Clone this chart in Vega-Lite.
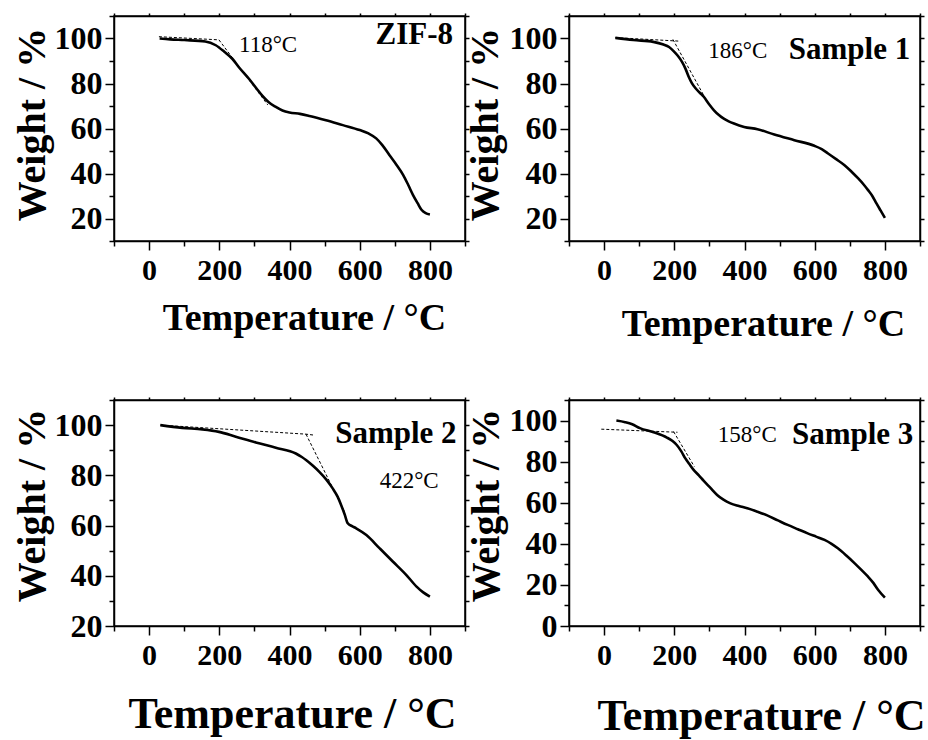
{
  "$schema": "https://vega.github.io/schema/vega-lite/v6.json",
  "background": "white",
  "padding": {"left": 11, "top": 11, "right": 0, "bottom": 0},
  "columns": 2,
  "spacing": {"row": 159, "column": 104},
  "bounds": "flush",
  "config": {
    "view": {"stroke": "black", "strokeWidth": 1.5},
    "axis": {
      "grid": false,
      "domainColor": "black",
      "domainWidth": 1.5,
      "tickColor": "black",
      "tickWidth": 1.5,
      "labelFont": "Liberation Serif",
      "labelFontWeight": "bold",
      "labelColor": "black",
      "labelOverlap": false,
      "titleFont": "Liberation Serif",
      "titleFontWeight": "bold",
      "titleColor": "black"
    }
  },
  "datasets": {
    "curve": [
      {"p": "ZIF-8", "T": 30, "W": 100}, {"p": "ZIF-8", "T": 60, "W": 99.6}, {"p": "ZIF-8", "T": 100, "W": 99.3}, {"p": "ZIF-8", "T": 160, "W": 98.7}, {"p": "ZIF-8", "T": 190, "W": 97}, {"p": "ZIF-8", "T": 215, "W": 94}, {"p": "ZIF-8", "T": 237, "W": 91}, {"p": "ZIF-8", "T": 257, "W": 87}, {"p": "ZIF-8", "T": 285, "W": 82}, {"p": "ZIF-8", "T": 305, "W": 78}, {"p": "ZIF-8", "T": 323, "W": 74.5}, {"p": "ZIF-8", "T": 340, "W": 71.8}, {"p": "ZIF-8", "T": 361, "W": 69.6}, {"p": "ZIF-8", "T": 380, "W": 68}, {"p": "ZIF-8", "T": 400, "W": 67.1}, {"p": "ZIF-8", "T": 430, "W": 66.5}, {"p": "ZIF-8", "T": 457, "W": 65.6}, {"p": "ZIF-8", "T": 504, "W": 63.7}, {"p": "ZIF-8", "T": 552, "W": 61.5}, {"p": "ZIF-8", "T": 600, "W": 59.3}, {"p": "ZIF-8", "T": 625, "W": 57.8}, {"p": "ZIF-8", "T": 647, "W": 55.6}, {"p": "ZIF-8", "T": 665, "W": 52.5}, {"p": "ZIF-8", "T": 685, "W": 48.1}, {"p": "ZIF-8", "T": 705, "W": 43.8}, {"p": "ZIF-8", "T": 724, "W": 39.3}, {"p": "ZIF-8", "T": 738, "W": 35}, {"p": "ZIF-8", "T": 752, "W": 30.4}, {"p": "ZIF-8", "T": 765, "W": 26.8}, {"p": "ZIF-8", "T": 776, "W": 23.9}, {"p": "ZIF-8", "T": 788, "W": 22.4}, {"p": "ZIF-8", "T": 800, "W": 21.8},
      {"p": "Sample 1", "T": 32, "W": 100.3}, {"p": "Sample 1", "T": 83, "W": 99.3}, {"p": "Sample 1", "T": 140, "W": 98.5}, {"p": "Sample 1", "T": 169, "W": 97.3}, {"p": "Sample 1", "T": 185, "W": 96.2}, {"p": "Sample 1", "T": 198, "W": 94.4}, {"p": "Sample 1", "T": 210, "W": 92.3}, {"p": "Sample 1", "T": 222, "W": 89.6}, {"p": "Sample 1", "T": 232, "W": 86.5}, {"p": "Sample 1", "T": 241, "W": 83}, {"p": "Sample 1", "T": 250, "W": 80.2}, {"p": "Sample 1", "T": 260, "W": 78}, {"p": "Sample 1", "T": 272, "W": 76}, {"p": "Sample 1", "T": 284, "W": 74.1}, {"p": "Sample 1", "T": 298, "W": 71}, {"p": "Sample 1", "T": 313, "W": 68.1}, {"p": "Sample 1", "T": 327, "W": 66}, {"p": "Sample 1", "T": 341, "W": 64.4}, {"p": "Sample 1", "T": 355, "W": 63.2}, {"p": "Sample 1", "T": 370, "W": 62.2}, {"p": "Sample 1", "T": 399, "W": 60.7}, {"p": "Sample 1", "T": 437, "W": 59.7}, {"p": "Sample 1", "T": 485, "W": 57.3}, {"p": "Sample 1", "T": 542, "W": 54.8}, {"p": "Sample 1", "T": 599, "W": 52.3}, {"p": "Sample 1", "T": 620, "W": 50.8}, {"p": "Sample 1", "T": 638, "W": 48.9}, {"p": "Sample 1", "T": 660, "W": 46.5}, {"p": "Sample 1", "T": 685, "W": 43.7}, {"p": "Sample 1", "T": 705, "W": 40.8}, {"p": "Sample 1", "T": 724, "W": 37.8}, {"p": "Sample 1", "T": 740, "W": 35}, {"p": "Sample 1", "T": 752, "W": 32.6}, {"p": "Sample 1", "T": 765, "W": 29.8}, {"p": "Sample 1", "T": 776, "W": 26.7}, {"p": "Sample 1", "T": 788, "W": 23.5}, {"p": "Sample 1", "T": 800, "W": 20.3},
      {"p": "Sample 2", "T": 32, "W": 100}, {"p": "Sample 2", "T": 94, "W": 98.9}, {"p": "Sample 2", "T": 152, "W": 98.3}, {"p": "Sample 2", "T": 199, "W": 97.3}, {"p": "Sample 2", "T": 247, "W": 95.4}, {"p": "Sample 2", "T": 304, "W": 93.1}, {"p": "Sample 2", "T": 361, "W": 91}, {"p": "Sample 2", "T": 418, "W": 88.7}, {"p": "Sample 2", "T": 435, "W": 87.3}, {"p": "Sample 2", "T": 447, "W": 86.1}, {"p": "Sample 2", "T": 466, "W": 83.9}, {"p": "Sample 2", "T": 485, "W": 81.4}, {"p": "Sample 2", "T": 505, "W": 78.3}, {"p": "Sample 2", "T": 523, "W": 74.8}, {"p": "Sample 2", "T": 537, "W": 71.5}, {"p": "Sample 2", "T": 547, "W": 68.2}, {"p": "Sample 2", "T": 557, "W": 64.5}, {"p": "Sample 2", "T": 566, "W": 60.9}, {"p": "Sample 2", "T": 578, "W": 59.8}, {"p": "Sample 2", "T": 590, "W": 58.9}, {"p": "Sample 2", "T": 619, "W": 56.2}, {"p": "Sample 2", "T": 657, "W": 50.9}, {"p": "Sample 2", "T": 695, "W": 45.6}, {"p": "Sample 2", "T": 733, "W": 40.3}, {"p": "Sample 2", "T": 762, "W": 35.7}, {"p": "Sample 2", "T": 781, "W": 33.4}, {"p": "Sample 2", "T": 800, "W": 31.7},
      {"p": "Sample 3", "T": 35, "W": 100}, {"p": "Sample 3", "T": 60, "W": 99.2}, {"p": "Sample 3", "T": 80, "W": 98.2}, {"p": "Sample 3", "T": 102, "W": 96.3}, {"p": "Sample 3", "T": 141, "W": 94.3}, {"p": "Sample 3", "T": 179, "W": 91.7}, {"p": "Sample 3", "T": 195, "W": 90}, {"p": "Sample 3", "T": 207, "W": 88.1}, {"p": "Sample 3", "T": 220, "W": 85}, {"p": "Sample 3", "T": 231, "W": 81.7}, {"p": "Sample 3", "T": 243, "W": 78.8}, {"p": "Sample 3", "T": 255, "W": 76}, {"p": "Sample 3", "T": 270, "W": 73.3}, {"p": "Sample 3", "T": 284, "W": 70.6}, {"p": "Sample 3", "T": 303, "W": 67.2}, {"p": "Sample 3", "T": 322, "W": 63.8}, {"p": "Sample 3", "T": 340, "W": 61.5}, {"p": "Sample 3", "T": 360, "W": 59.7}, {"p": "Sample 3", "T": 384, "W": 58.4}, {"p": "Sample 3", "T": 408, "W": 57.3}, {"p": "Sample 3", "T": 437, "W": 55.6}, {"p": "Sample 3", "T": 466, "W": 53.7}, {"p": "Sample 3", "T": 495, "W": 51.4}, {"p": "Sample 3", "T": 523, "W": 49.2}, {"p": "Sample 3", "T": 552, "W": 47.1}, {"p": "Sample 3", "T": 580, "W": 45.1}, {"p": "Sample 3", "T": 604, "W": 43.5}, {"p": "Sample 3", "T": 628, "W": 41.9}, {"p": "Sample 3", "T": 648, "W": 40}, {"p": "Sample 3", "T": 666, "W": 37.8}, {"p": "Sample 3", "T": 690, "W": 34.3}, {"p": "Sample 3", "T": 714, "W": 30.5}, {"p": "Sample 3", "T": 733, "W": 27.3}, {"p": "Sample 3", "T": 752, "W": 24}, {"p": "Sample 3", "T": 767, "W": 21}, {"p": "Sample 3", "T": 781, "W": 17.5}, {"p": "Sample 3", "T": 800, "W": 13.8}
    ],
    "tangent": [
      {"p": "ZIF-8", "seg": "a", "T": 28, "W": 100.8}, {"p": "ZIF-8", "seg": "a", "T": 199, "W": 99.4},
      {"p": "ZIF-8", "seg": "b", "T": 199, "W": 99.4}, {"p": "ZIF-8", "seg": "b", "T": 338, "W": 70.5},
      {"p": "Sample 1", "seg": "a", "T": 32, "W": 100.4}, {"p": "Sample 1", "seg": "a", "T": 217, "W": 98.8},
      {"p": "Sample 1", "seg": "b", "T": 196, "W": 99.6}, {"p": "Sample 1", "seg": "b", "T": 286, "W": 74.1},
      {"p": "Sample 2", "seg": "a", "T": 32, "W": 100}, {"p": "Sample 2", "seg": "a", "T": 447, "W": 96.4}, {"p": "Sample 2", "seg": "a", "T": 471, "W": 96},
      {"p": "Sample 2", "seg": "b", "T": 447, "W": 96.4}, {"p": "Sample 2", "seg": "b", "T": 557, "W": 65.5},
      {"p": "Sample 3", "seg": "a", "T": -8, "W": 95.8}, {"p": "Sample 3", "seg": "a", "T": 209, "W": 94.3},
      {"p": "Sample 3", "seg": "b", "T": 198, "W": 94.6}, {"p": "Sample 3", "seg": "b", "T": 257, "W": 77.6}
    ],
    "names": [
      {"p": "ZIF-8", "T": 866, "W": 101.5, "name": "ZIF-8"},
      {"p": "Sample 1", "T": 872, "W": 95.1, "name": "Sample 1"},
      {"p": "Sample 2", "T": 876, "W": 96.3, "name": "Sample 2"},
      {"p": "Sample 3", "T": 881, "W": 93, "name": "Sample 3"}
    ],
    "temps": [
      {"p": "ZIF-8", "T": 339, "W": 97.3, "label": "118°C"},
      {"p": "Sample 1", "T": 381, "W": 94.5, "label": "186°C"},
      {"p": "Sample 2", "T": 741, "W": 77.7, "label": "422°C"},
      {"p": "Sample 3", "T": 408, "W": 93, "label": "158°C"}
    ]
  },
  "concat": [
    {
      "width": 351, "height": 225,
      "resolve": {"axis": {"x": "independent", "y": "independent"}},
      "layer": [
        {
          "data": {"name": "curve"},
          "transform": [{"filter": "datum.p === 'ZIF-8'"}],
          "mark": {"type": "line", "color": "black", "strokeWidth": 2.6, "interpolate": "monotone"},
          "encoding": {
            "x": {"field": "T", "type": "quantitative", "scale": {"domain": [-100, 900], "nice": false, "zero": false},
              "axis": {"orient": "bottom", "values": [-100, 0, 100, 200, 300, 400, 500, 600, 700, 800, 900], "labelExpr": "datum.value % 200 === 0 ? datum.label : ''", "labelFontSize": {"condition": {"test": "datum.value % 200 !== 0", "value": 0}, "value": 30}, "tickSize": {"condition": {"test": "datum.value % 200 === 0", "value": 9}, "value": 5}, "labelPadding": 5, "title": "Temperature / °C", "titleFontSize": 38, "titleX": 190, "titleY": 88, "titleBaseline": "alphabetic", "titleAlign": "center"}},
            "y": {"field": "W", "type": "quantitative", "scale": {"domain": [10, 110], "nice": false, "zero": false},
              "axis": {"orient": "left", "values": [10, 20, 30, 40, 50, 60, 70, 80, 90, 100, 110], "labelExpr": "datum.value % 20 === 0 ? datum.label : ''", "labelFontSize": {"condition": {"test": "datum.value % 20 !== 0", "value": 0}, "value": 32}, "tickSize": {"condition": {"test": "datum.value % 20 === 0", "value": 9}, "value": 5}, "labelPadding": 3, "title": "Weight / %", "titleFontSize": 40, "titleAngle": -90, "titleX": -70, "titleY": 108, "titleBaseline": "alphabetic", "titleAlign": "center"}}
          }
        },
        {
          "data": {"name": "tangent"},
          "transform": [{"filter": "datum.p === 'ZIF-8'"}],
          "mark": {"type": "line", "color": "black", "strokeWidth": 1, "strokeDash": [3, 2]},
          "encoding": {
            "x": {"field": "T", "type": "quantitative", "axis": {"orient": "top", "values": [-100, 0, 100, 200, 300, 400, 500, 600, 700, 800, 900], "labels": false, "tickSize": 3, "title": null}},
            "y": {"field": "W", "type": "quantitative", "axis": {"orient": "right", "values": [10, 20, 30, 40, 50, 60, 70, 80, 90, 100, 110], "labels": false, "tickSize": 4, "title": null}},
            "detail": {"field": "seg"}
          }
        },
        {
          "data": {"name": "names"},
          "transform": [{"filter": "datum.p === 'ZIF-8'"}],
          "mark": {"type": "text", "font": "Liberation Serif", "fontWeight": "bold", "fontSize": 31, "align": "right", "baseline": "middle", "color": "black"},
          "encoding": {"x": {"field": "T", "type": "quantitative", "axis": null}, "y": {"field": "W", "type": "quantitative", "axis": null}, "text": {"field": "name"}}
        },
        {
          "data": {"name": "temps"},
          "transform": [{"filter": "datum.p === 'ZIF-8'"}],
          "mark": {"type": "text", "font": "Liberation Serif", "fontSize": 23, "align": "center", "baseline": "middle", "color": "black"},
          "encoding": {"x": {"field": "T", "type": "quantitative", "axis": null}, "y": {"field": "W", "type": "quantitative", "axis": null}, "text": {"field": "label"}}
        }
      ]
    },
    {
      "width": 351, "height": 225,
      "resolve": {"axis": {"x": "independent", "y": "independent"}},
      "layer": [
        {
          "data": {"name": "curve"},
          "transform": [{"filter": "datum.p === 'Sample 1'"}],
          "mark": {"type": "line", "color": "black", "strokeWidth": 2.6, "interpolate": "monotone"},
          "encoding": {
            "x": {"field": "T", "type": "quantitative", "scale": {"domain": [-100, 900], "nice": false, "zero": false},
              "axis": {"orient": "bottom", "values": [-100, 0, 100, 200, 300, 400, 500, 600, 700, 800, 900], "labelExpr": "datum.value % 200 === 0 ? datum.label : ''", "labelFontSize": {"condition": {"test": "datum.value % 200 !== 0", "value": 0}, "value": 30}, "tickSize": {"condition": {"test": "datum.value % 200 === 0", "value": 9}, "value": 5}, "labelPadding": 5, "title": "Temperature / °C", "titleFontSize": 38, "titleX": 194, "titleY": 94, "titleBaseline": "alphabetic", "titleAlign": "center"}},
            "y": {"field": "W", "type": "quantitative", "scale": {"domain": [10, 110], "nice": false, "zero": false},
              "axis": {"orient": "left", "values": [10, 20, 30, 40, 50, 60, 70, 80, 90, 100, 110], "labelExpr": "datum.value % 20 === 0 ? datum.label : ''", "labelFontSize": {"condition": {"test": "datum.value % 20 !== 0", "value": 0}, "value": 32}, "tickSize": {"condition": {"test": "datum.value % 20 === 0", "value": 9}, "value": 5}, "labelPadding": 3, "title": "Weight / %", "titleFontSize": 40, "titleAngle": -90, "titleX": -72, "titleY": 108, "titleBaseline": "alphabetic", "titleAlign": "center"}}
          }
        },
        {
          "data": {"name": "tangent"},
          "transform": [{"filter": "datum.p === 'Sample 1'"}],
          "mark": {"type": "line", "color": "black", "strokeWidth": 1, "strokeDash": [3, 2]},
          "encoding": {
            "x": {"field": "T", "type": "quantitative", "axis": {"orient": "top", "values": [-100, 0, 100, 200, 300, 400, 500, 600, 700, 800, 900], "labels": false, "tickSize": 3, "title": null}},
            "y": {"field": "W", "type": "quantitative", "axis": {"orient": "right", "values": [10, 20, 30, 40, 50, 60, 70, 80, 90, 100, 110], "labels": false, "tickSize": 4, "title": null}},
            "detail": {"field": "seg"}
          }
        },
        {
          "data": {"name": "names"},
          "transform": [{"filter": "datum.p === 'Sample 1'"}],
          "mark": {"type": "text", "font": "Liberation Serif", "fontWeight": "bold", "fontSize": 31, "align": "right", "baseline": "middle", "color": "black"},
          "encoding": {"x": {"field": "T", "type": "quantitative", "axis": null}, "y": {"field": "W", "type": "quantitative", "axis": null}, "text": {"field": "name"}}
        },
        {
          "data": {"name": "temps"},
          "transform": [{"filter": "datum.p === 'Sample 1'"}],
          "mark": {"type": "text", "font": "Liberation Serif", "fontSize": 23, "align": "center", "baseline": "middle", "color": "black"},
          "encoding": {"x": {"field": "T", "type": "quantitative", "axis": null}, "y": {"field": "W", "type": "quantitative", "axis": null}, "text": {"field": "label"}}
        }
      ]
    },
    {
      "width": 351, "height": 226,
      "resolve": {"axis": {"x": "independent", "y": "independent"}},
      "layer": [
        {
          "data": {"name": "curve"},
          "transform": [{"filter": "datum.p === 'Sample 2'"}],
          "mark": {"type": "line", "color": "black", "strokeWidth": 2.6, "interpolate": "monotone"},
          "encoding": {
            "x": {"field": "T", "type": "quantitative", "scale": {"domain": [-100, 900], "nice": false, "zero": false},
              "axis": {"orient": "bottom", "values": [-100, 0, 100, 200, 300, 400, 500, 600, 700, 800, 900], "labelExpr": "datum.value % 200 === 0 ? datum.label : ''", "labelFontSize": {"condition": {"test": "datum.value % 200 !== 0", "value": 0}, "value": 30}, "tickSize": {"condition": {"test": "datum.value % 200 === 0", "value": 9}, "value": 5}, "labelPadding": 5, "title": "Temperature / °C", "titleFontSize": 44, "titleX": 178, "titleY": 101, "titleBaseline": "alphabetic", "titleAlign": "center"}},
            "y": {"field": "W", "type": "quantitative", "scale": {"domain": [20, 110], "nice": false, "zero": false},
              "axis": {"orient": "left", "values": [20, 30, 40, 50, 60, 70, 80, 90, 100, 110], "labelExpr": "datum.value % 20 === 0 ? datum.label : ''", "labelFontSize": {"condition": {"test": "datum.value % 20 !== 0", "value": 0}, "value": 32}, "tickSize": {"condition": {"test": "datum.value % 20 === 0", "value": 9}, "value": 5}, "labelPadding": 3, "title": "Weight / %", "titleFontSize": 40, "titleAngle": -90, "titleX": -70, "titleY": 105, "titleBaseline": "alphabetic", "titleAlign": "center"}}
          }
        },
        {
          "data": {"name": "tangent"},
          "transform": [{"filter": "datum.p === 'Sample 2'"}],
          "mark": {"type": "line", "color": "black", "strokeWidth": 1, "strokeDash": [3, 2]},
          "encoding": {
            "x": {"field": "T", "type": "quantitative", "axis": {"orient": "top", "values": [-100, 0, 100, 200, 300, 400, 500, 600, 700, 800, 900], "labels": false, "tickSize": 3, "title": null}},
            "y": {"field": "W", "type": "quantitative", "axis": {"orient": "right", "values": [20, 30, 40, 50, 60, 70, 80, 90, 100, 110], "labels": false, "tickSize": 4, "title": null}},
            "detail": {"field": "seg"}
          }
        },
        {
          "data": {"name": "names"},
          "transform": [{"filter": "datum.p === 'Sample 2'"}],
          "mark": {"type": "text", "font": "Liberation Serif", "fontWeight": "bold", "fontSize": 31, "align": "right", "baseline": "middle", "color": "black"},
          "encoding": {"x": {"field": "T", "type": "quantitative", "axis": null}, "y": {"field": "W", "type": "quantitative", "axis": null}, "text": {"field": "name"}}
        },
        {
          "data": {"name": "temps"},
          "transform": [{"filter": "datum.p === 'Sample 2'"}],
          "mark": {"type": "text", "font": "Liberation Serif", "fontSize": 23, "align": "center", "baseline": "middle", "color": "black"},
          "encoding": {"x": {"field": "T", "type": "quantitative", "axis": null}, "y": {"field": "W", "type": "quantitative", "axis": null}, "text": {"field": "label"}}
        }
      ]
    },
    {
      "width": 351, "height": 226,
      "resolve": {"axis": {"x": "independent", "y": "independent"}},
      "layer": [
        {
          "data": {"name": "curve"},
          "transform": [{"filter": "datum.p === 'Sample 3'"}],
          "mark": {"type": "line", "color": "black", "strokeWidth": 2.6, "interpolate": "monotone"},
          "encoding": {
            "x": {"field": "T", "type": "quantitative", "scale": {"domain": [-100, 900], "nice": false, "zero": false},
              "axis": {"orient": "bottom", "values": [-100, 0, 100, 200, 300, 400, 500, 600, 700, 800, 900], "labelExpr": "datum.value % 200 === 0 ? datum.label : ''", "labelFontSize": {"condition": {"test": "datum.value % 200 !== 0", "value": 0}, "value": 30}, "tickSize": {"condition": {"test": "datum.value % 200 === 0", "value": 9}, "value": 5}, "labelPadding": 5, "title": "Temperature / °C", "titleFontSize": 44, "titleX": 192, "titleY": 103, "titleBaseline": "alphabetic", "titleAlign": "center"}},
            "y": {"field": "W", "type": "quantitative", "scale": {"domain": [0, 110], "nice": false, "zero": false},
              "axis": {"orient": "left", "values": [0, 10, 20, 30, 40, 50, 60, 70, 80, 90, 100, 110], "labelExpr": "datum.value % 20 === 0 ? datum.label : ''", "labelFontSize": {"condition": {"test": "datum.value % 20 !== 0", "value": 0}, "value": 32}, "tickSize": {"condition": {"test": "datum.value % 20 === 0", "value": 9}, "value": 5}, "labelPadding": 3, "title": "Weight / %", "titleFontSize": 40, "titleAngle": -90, "titleX": -71, "titleY": 105, "titleBaseline": "alphabetic", "titleAlign": "center"}}
          }
        },
        {
          "data": {"name": "tangent"},
          "transform": [{"filter": "datum.p === 'Sample 3'"}],
          "mark": {"type": "line", "color": "black", "strokeWidth": 1, "strokeDash": [3, 2]},
          "encoding": {
            "x": {"field": "T", "type": "quantitative", "axis": {"orient": "top", "values": [-100, 0, 100, 200, 300, 400, 500, 600, 700, 800, 900], "labels": false, "tickSize": 3, "title": null}},
            "y": {"field": "W", "type": "quantitative", "axis": {"orient": "right", "values": [0, 10, 20, 30, 40, 50, 60, 70, 80, 90, 100, 110], "labels": false, "tickSize": 4, "title": null}},
            "detail": {"field": "seg"}
          }
        },
        {
          "data": {"name": "names"},
          "transform": [{"filter": "datum.p === 'Sample 3'"}],
          "mark": {"type": "text", "font": "Liberation Serif", "fontWeight": "bold", "fontSize": 31, "align": "right", "baseline": "middle", "color": "black"},
          "encoding": {"x": {"field": "T", "type": "quantitative", "axis": null}, "y": {"field": "W", "type": "quantitative", "axis": null}, "text": {"field": "name"}}
        },
        {
          "data": {"name": "temps"},
          "transform": [{"filter": "datum.p === 'Sample 3'"}],
          "mark": {"type": "text", "font": "Liberation Serif", "fontSize": 23, "align": "center", "baseline": "middle", "color": "black"},
          "encoding": {"x": {"field": "T", "type": "quantitative", "axis": null}, "y": {"field": "W", "type": "quantitative", "axis": null}, "text": {"field": "label"}}
        }
      ]
    }
  ]
}
